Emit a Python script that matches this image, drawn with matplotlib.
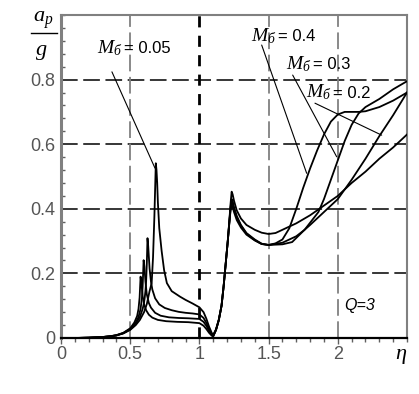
import numpy as np
import matplotlib
matplotlib.use("Agg")
import matplotlib.pyplot as plt
from matplotlib.ticker import MultipleLocator, FixedLocator
from matplotlib.lines import Line2D

plt.rcParams['font.family'] = ['Liberation Sans', 'DejaVu Sans']
plt.rcParams['mathtext.fontset'] = 'custom'
plt.rcParams['mathtext.it'] = 'Liberation Serif:italic'
plt.rcParams['mathtext.rm'] = 'Liberation Serif'
plt.rcParams['lines.scale_dashes'] = False

# --- values (eta, a_p/g) ---
eta_005 = [0, 0.1, 0.2, 0.3, 0.35, 0.4, 0.45, 0.5, 0.54, 0.57, 0.6, 0.62, 0.64, 0.655,
           0.665, 0.675, 0.68, 0.685, 0.69, 0.695, 0.70, 0.71, 0.727, 0.745, 0.765, 0.8,
           0.86, 0.9, 0.95, 1.0, 1.03, 1.05, 1.07, 1.09, 1.1, 1.12, 1.14, 1.16, 1.175,
           1.19, 1.205, 1.215, 1.225, 1.233, 1.24, 1.25, 1.27, 1.3, 1.34, 1.4, 1.45, 1.5,
           1.55, 1.6, 1.7, 1.8, 1.9, 2.0, 2.1, 2.2, 2.3, 2.4, 2.5]
ap_005 = [0, 0, 0.001, 0.003, 0.005, 0.008, 0.014, 0.025, 0.04, 0.056, 0.08, 0.105, 0.145, 0.17,
          0.25, 0.38, 0.46, 0.541, 0.52, 0.48, 0.42, 0.34, 0.27, 0.21, 0.17, 0.145,
          0.128, 0.118, 0.107, 0.095, 0.08, 0.06, 0.035, 0.015, 0.01, 0.027, 0.057, 0.1, 0.16,
          0.23, 0.3, 0.355, 0.415, 0.453, 0.445, 0.425, 0.395, 0.37, 0.35, 0.335, 0.326, 0.322,
          0.325, 0.335, 0.355, 0.38, 0.41, 0.44, 0.48, 0.515, 0.555, 0.59, 0.63]

eta_02 = [0, 0.1, 0.2, 0.3, 0.35, 0.4, 0.45, 0.5, 0.54, 0.57, 0.59, 0.6, 0.605, 0.61, 0.615,
          0.62, 0.625, 0.63, 0.635, 0.64, 0.65, 0.66, 0.68, 0.71, 0.75, 0.8, 0.85, 0.9, 0.95,
          1.0, 1.03, 1.05, 1.07, 1.09, 1.1, 1.12, 1.14, 1.16, 1.175, 1.19, 1.205, 1.215, 1.225,
          1.233, 1.24, 1.25, 1.27, 1.3, 1.34, 1.4, 1.45, 1.5, 1.6, 1.7, 1.76, 1.8, 1.9, 2.0,
          2.1, 2.2, 2.3, 2.4, 2.5]
ap_02 = [0, 0, 0.001, 0.003, 0.005, 0.008, 0.015, 0.027, 0.045, 0.065, 0.09, 0.11, 0.125, 0.145, 0.175,
         0.23, 0.309, 0.285, 0.25, 0.215, 0.175, 0.15, 0.123, 0.104, 0.093, 0.086, 0.081, 0.078, 0.076,
         0.073, 0.062, 0.047, 0.028, 0.012, 0.007, 0.025, 0.055, 0.1, 0.16, 0.23, 0.3, 0.355, 0.405,
         0.43, 0.425, 0.405, 0.378, 0.35, 0.325, 0.305, 0.292, 0.288, 0.295, 0.315, 0.335, 0.35, 0.39, 0.43,
         0.49, 0.555, 0.625, 0.69, 0.76]

eta_03 = [0, 0.1, 0.2, 0.3, 0.35, 0.4, 0.45, 0.5, 0.54, 0.56, 0.575, 0.585, 0.59, 0.597, 0.603,
          0.61, 0.62, 0.635, 0.65, 0.68, 0.72, 0.78, 0.85, 0.92, 1.0, 1.03, 1.05, 1.07, 1.09,
          1.1, 1.12, 1.14, 1.16, 1.175, 1.19, 1.205, 1.215, 1.225, 1.233, 1.24, 1.25, 1.27, 1.3,
          1.34, 1.4, 1.45, 1.5, 1.6, 1.67, 1.76, 1.86, 1.9, 1.95, 2.0, 2.05, 2.1, 2.15, 2.2,
          2.3, 2.4, 2.5]
ap_03 = [0, 0, 0.001, 0.003, 0.005, 0.008, 0.015, 0.028, 0.048, 0.065, 0.09, 0.125, 0.16, 0.241, 0.22,
         0.175, 0.135, 0.108, 0.094, 0.078, 0.069, 0.064, 0.062, 0.061, 0.059, 0.05, 0.038, 0.022, 0.009,
         0.006, 0.025, 0.055, 0.1, 0.16, 0.23, 0.3, 0.35, 0.4, 0.42, 0.415, 0.4, 0.372, 0.348,
         0.323, 0.303, 0.291, 0.288, 0.29, 0.297, 0.335, 0.39, 0.43, 0.49, 0.55, 0.61, 0.66, 0.695, 0.715,
         0.74, 0.77, 0.795]

eta_04 = [0, 0.1, 0.2, 0.3, 0.35, 0.4, 0.45, 0.5, 0.53, 0.55, 0.56, 0.568, 0.575, 0.582, 0.59,
          0.6, 0.615, 0.635, 0.66, 0.7, 0.76, 0.84, 0.92, 1.0, 1.03, 1.05, 1.07, 1.09, 1.1, 1.12,
          1.14, 1.16, 1.175, 1.19, 1.205, 1.215, 1.225, 1.233, 1.24, 1.25, 1.27, 1.3, 1.34, 1.4,
          1.45, 1.5, 1.55, 1.6, 1.65, 1.7, 1.75, 1.8, 1.85, 1.9, 1.95, 2.0, 2.05, 2.1, 2.15, 2.2,
          2.3, 2.4, 2.5]
ap_04 = [0, 0, 0.001, 0.003, 0.005, 0.009, 0.016, 0.03, 0.048, 0.068, 0.09, 0.125, 0.19, 0.165, 0.13,
         0.105, 0.086, 0.072, 0.063, 0.056, 0.052, 0.05, 0.049, 0.046, 0.038, 0.028, 0.016, 0.007, 0.005, 0.025,
         0.055, 0.1, 0.16, 0.23, 0.3, 0.35, 0.395, 0.41, 0.405, 0.39, 0.365, 0.342, 0.32, 0.302,
         0.291, 0.288, 0.293, 0.305, 0.34, 0.40, 0.465, 0.525, 0.58, 0.63, 0.67, 0.692, 0.70, 0.70, 0.70, 0.702,
         0.715, 0.735, 0.76]

x_ticks = [0, 0.5, 1, 1.5, 2]
x_labels = ['0', '0.5', '1', '1.5', '2']
y_ticks = [0, 0.2, 0.4, 0.6, 0.8]
y_labels = ['0', '0.2', '0.4', '0.6', '0.8']

# value, x where "=" starts, baseline y, leader start, leader end (data coords)
notes = [
    ('0.05', 0.455, 0.881, (0.368, 0.824), (0.679, 0.526)),
    ('0.4', 1.570, 0.920, (1.450, 0.907), (1.775, 0.510)),
    ('0.3', 1.823, 0.832, (1.674, 0.814), (1.992, 0.561)),
    ('0.2', 1.963, 0.744, (1.835, 0.727), (2.317, 0.628)),
]

W, H = 419, 394
fig = plt.figure(figsize=(W / 100, H / 100), dpi=100)
ax = fig.add_axes([61 / W, 1 - 338 / H, 346 / W, 323 / H])
ax.set_xlim(0, 2.5)
ax.set_ylim(0, 1.0)

# grid: dashed lines
for y in [0.2, 0.4, 0.6, 0.8]:
    ax.axhline(y, color='k', lw=1.1, ls=(0, (12, 4)), zorder=1)
for x in [0.5, 1.5, 2.0]:
    ax.axvline(x, color='#808080', lw=1.3, ls=(0, (12, 4)), zorder=1)
ax.axvline(1.0, color='k', lw=2.0, ls=(0, (8, 6)), zorder=1)

for eta, ap in [(eta_005, ap_005), (eta_02, ap_02), (eta_03, ap_03), (eta_04, ap_04)]:
    ax.plot(eta, ap, color='k', lw=1.3, zorder=3)

for val, xs, yb, p0, p1 in notes:
    ax.annotate('', xy=p1, xytext=p0,
                arrowprops=dict(arrowstyle='-', lw=0.8, color='k', shrinkA=0, shrinkB=0))
    ax.text(xs - 0.01, yb, r'$M_{б}$', fontsize=14, ha='right', va='baseline', zorder=4)
    ax.text(xs, yb, '= ' + val, fontsize=12, ha='left', va='baseline', zorder=4)

ax.text(2.16, 0.102, 'Q=3', fontsize=11.5, style='italic', ha='center', va='center')

# axes styling
for side in ['left', 'top', 'right']:
    ax.spines[side].set_color('#808080')
ax.spines['left'].set_linewidth(2.2)
ax.spines['top'].set_linewidth(1.5)
ax.spines['right'].set_linewidth(1.5)
ax.spines['bottom'].set_linewidth(1.6)
ax.spines['bottom'].set_color('k')

ax.xaxis.set_major_locator(FixedLocator(x_ticks))
ax.set_xticklabels(x_labels)
ax.xaxis.set_minor_locator(MultipleLocator(0.1))
ax.yaxis.set_major_locator(FixedLocator(y_ticks))
ax.set_yticklabels(y_labels)
ax.yaxis.set_minor_locator(MultipleLocator(0.04))
ax.tick_params(axis='x', which='both', direction='out', color='#606060', labelsize=13,
               labelcolor='#555555', pad=2)
ax.tick_params(axis='x', which='major', length=4, width=1)
ax.tick_params(axis='x', which='minor', length=3, width=1)
ax.tick_params(axis='y', which='both', direction='in', color='#606060', labelsize=13,
               labelcolor='#555555', pad=4)
ax.tick_params(axis='y', which='major', length=0)
ax.tick_params(axis='y', which='minor', length=3, width=1)

# y label as a fraction a_p / g
fig.text(43 / W, 1 - 20 / H, r'$a_p$', fontsize=16, ha='center', va='center')
fig.add_artist(Line2D([31 / W, 57 / W], [1 - 33 / H, 1 - 33 / H], color='k', lw=1.0))
fig.text(41 / W, 1 - 52 / H, r'$g$', fontsize=16, ha='center', va='center')
fig.text(401 / W, 1 - 355 / H, r'$\eta$', fontsize=16, ha='center', va='center')

fig.savefig('out.png', dpi=100)
